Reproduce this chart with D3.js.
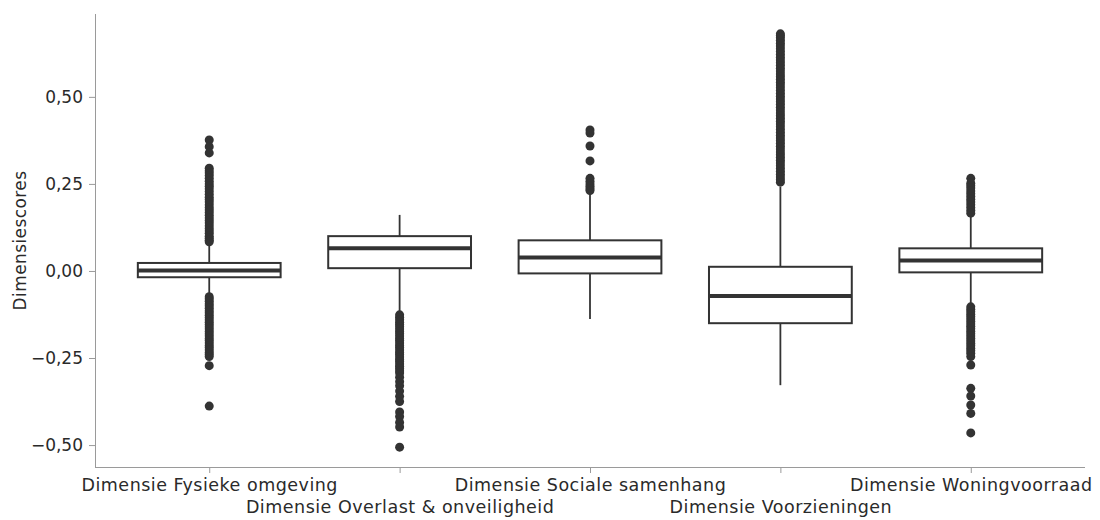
<!DOCTYPE html>
<html>
<head>
<meta charset="utf-8">
<script src="https://cdn.jsdelivr.net/npm/d3@7"></script>
<style>
  body { margin: 0; background: #fff; }
  text { font-family: "DejaVu Sans", sans-serif; fill: #2a2a2a; }
</style>
</head>
<body>
<div id="chart"></div>
<script>
// categorieen en boxplot-statistieken
var categories = ["Dimensie Fysieke omgeving", "Dimensie Overlast & onveiligheid", "Dimensie Sociale samenhang", "Dimensie Voorzieningen", "Dimensie Woningvoorraad"];
var q1 = [-0.018, 0.008, -0.007, -0.150, -0.004];
var median = [0.001, 0.065, 0.039, -0.072, 0.030];
var q3 = [0.023, 0.100, 0.088, 0.012, 0.065];
var whiskerLow = [-0.069, -0.117, -0.138, -0.328, -0.093];
var whiskerHigh = [0.075, 0.161, 0.221, 0.242, 0.156];
var yTicks = [-0.5, -0.25, 0, 0.25, 0.5];

// uitschieters per dimensie
var outFysiek = [0.376, 0.357, 0.339, 0.295, 0.288, 0.281, 0.274, 0.266, 0.258, 0.250, 0.243, 0.236, 0.228, 0.220, 0.212, 0.205, 0.198, 0.190, 0.182, 0.175, 0.168, 0.160, 0.152, 0.145, 0.138, 0.130, 0.122, 0.115, 0.108, 0.100, 0.094, 0.088, 0.084,
  -0.074, -0.080, -0.087, -0.094, -0.100, -0.107, -0.114, -0.120, -0.127, -0.134, -0.140, -0.147, -0.154, -0.160, -0.167, -0.174, -0.180, -0.187, -0.194, -0.200, -0.207, -0.214, -0.220, -0.227, -0.234, -0.240, -0.246, -0.272, -0.388];
var outOverlast = [-0.126, -0.133, -0.140, -0.147, -0.154, -0.160, -0.167, -0.174, -0.180, -0.187, -0.194, -0.200, -0.207, -0.214, -0.220, -0.227, -0.234, -0.240, -0.247, -0.254, -0.260, -0.267, -0.274, -0.280, -0.287, -0.293, -0.305, -0.318, -0.330, -0.345, -0.360, -0.375, -0.405, -0.418, -0.435, -0.448, -0.506];
var outSociaal = [0.405, 0.396, 0.359, 0.316, 0.266, 0.258, 0.250, 0.243, 0.236, 0.231];
var outVoorz = [0.255, 0.262, 0.270, 0.278, 0.286, 0.294, 0.302, 0.310, 0.318, 0.326, 0.334, 0.342, 0.350, 0.358, 0.366, 0.374, 0.382, 0.390, 0.398, 0.406, 0.414, 0.422, 0.430, 0.438, 0.446, 0.454, 0.462, 0.470, 0.478, 0.486, 0.494, 0.502, 0.510, 0.518, 0.526, 0.534, 0.542, 0.550, 0.558, 0.566, 0.574, 0.582, 0.590, 0.598, 0.606, 0.614, 0.622, 0.630, 0.638, 0.646, 0.654, 0.662, 0.670, 0.676, 0.681];
var outWoning = [0.266, 0.252, 0.245, 0.238, 0.230, 0.222, 0.214, 0.206, 0.198, 0.190, 0.182, 0.174, 0.166,
  -0.103, -0.110, -0.117, -0.124, -0.131, -0.138, -0.145, -0.152, -0.159, -0.166, -0.173, -0.180, -0.187, -0.194, -0.201, -0.208, -0.215, -0.222, -0.229, -0.236, -0.246, -0.270, -0.337, -0.359, -0.385, -0.409, -0.465];
var outliers = [outFysiek, outOverlast, outSociaal, outVoorz, outWoning];

var width = 1100, height = 520;
var dark = "#333333", grey = "#9a9a9a";
var fontSize = "17.5px";

var svg = d3.select("#chart").append("svg")
    .attr("width", width)
    .attr("height", height);

var x = d3.scaleLinear().domain([-0.6, 4.6]).range([95, 1085]);
var y = d3.scaleLinear().domain([-0.563, 0.738]).range([467, 14]);
var boxW = 0.75;

var nl = d3.formatLocale({decimal: ",", thousands: ".", grouping: [3], currency: ["€", ""]});

// y-as
var yAxis = svg.append("g")
    .attr("transform", "translate(95,0)")
    .call(d3.axisLeft(y).tickValues(yTicks).tickFormat(nl.format(".2f")).tickSize(6).tickPadding(6));
yAxis.select(".domain").attr("stroke", grey).attr("d", "M0.5," + y.range()[1] + "V" + y.range()[0]);
yAxis.selectAll(".tick line").attr("stroke", grey);
yAxis.selectAll(".tick text").style("font-size", "17px").style("font-family", "DejaVu Sans, sans-serif").attr("fill", "#2a2a2a");

// x-as
var xAxis = svg.append("g")
    .attr("transform", "translate(0,467)")
    .call(d3.axisBottom(x).tickValues(d3.range(categories.length)).tickFormat(function (i) { return categories[i]; }).tickSize(6).tickPadding(6));
xAxis.select(".domain").attr("stroke", grey).attr("d", "M95,0.5H1085");
xAxis.selectAll(".tick line").attr("stroke", grey);
xAxis.selectAll(".tick text")
    .style("font-size", fontSize).style("font-family", "DejaVu Sans, sans-serif").style("letter-spacing", "0.5px")
    .attr("fill", "#2a2a2a")
    .attr("dy", function (i) { return i % 2 ? "1.95em" : "0.7em"; });

// y-label
svg.append("text")
    .attr("transform", "translate(26," + ((y.range()[0] + y.range()[1]) / 2) + ") rotate(-90)")
    .attr("text-anchor", "middle")
    .style("font-size", "17px")
    .style("letter-spacing", "0.4px")
    .text("Dimensiescores");

var boxes = svg.append("g");
categories.forEach(function (c, i) {
    var g = boxes.append("g");
    var cx = x(i), x0 = x(i - boxW / 2), x1 = x(i + boxW / 2);
    // snorharen
    g.append("line").attr("x1", cx).attr("x2", cx).attr("y1", y(q3[i])).attr("y2", y(whiskerHigh[i]))
        .attr("stroke", dark).attr("stroke-width", 1.8);
    g.append("line").attr("x1", cx).attr("x2", cx).attr("y1", y(q1[i])).attr("y2", y(whiskerLow[i]))
        .attr("stroke", dark).attr("stroke-width", 1.8);
    // doos
    g.append("rect").attr("x", x0).attr("y", y(q3[i])).attr("width", x1 - x0).attr("height", y(q1[i]) - y(q3[i]))
        .attr("fill", "#fff").attr("stroke", dark).attr("stroke-width", 2);
    // mediaan
    g.append("line").attr("x1", x0).attr("x2", x1).attr("y1", y(median[i])).attr("y2", y(median[i]))
        .attr("stroke", dark).attr("stroke-width", 4);
    // uitschieters
    g.selectAll("circle").data(outliers[i]).enter().append("circle")
        .attr("cx", cx).attr("cy", function (d) { return y(d); }).attr("r", 4.5)
        .attr("fill", dark);
});
</script>
</body>
</html>
